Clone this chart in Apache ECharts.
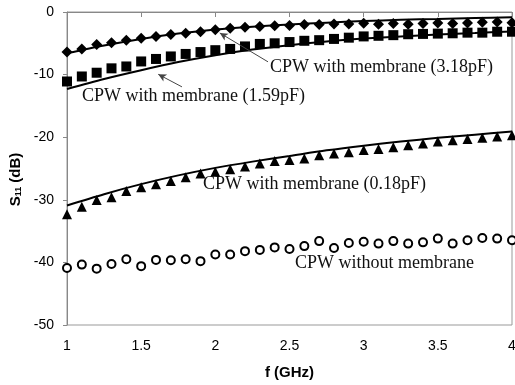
<!DOCTYPE html>
<html lang="en">
<head>
    <meta charset="UTF-8">
    <title>S11 vs frequency</title>
    <script src="https://cdn.jsdelivr.net/npm/echarts@6/dist/echarts.min.js"></script>
</head>
<body style="margin: 0">
<div id="chart" style="width: 515px;height: 385px"></div>
<script>
    // frequency points of the measured data (GHz)
    let freq = [1, 1.1, 1.2, 1.3, 1.4, 1.5, 1.6, 1.7, 1.8, 1.9, 2, 2.1, 2.2, 2.3, 2.4, 2.5,
        2.6, 2.7, 2.8, 2.9, 3, 3.1, 3.2, 3.3, 3.4, 3.5, 3.6, 3.7, 3.8, 3.9, 4];

    // measured S11 (dB)
    let meas318 = [-6.4, -5.9, -5.2, -4.9, -4.5, -4.2, -3.9, -3.6, -3.4, -3.15, -2.85, -2.6, -2.45, -2.3, -2.2, -2.15,
        -2.0, -2.0, -1.9, -1.9, -1.8, -1.95, -1.85, -1.95, -1.85, -1.75, -1.85, -1.75, -1.65, -1.6, -1.7];
    let meas159 = [-11.1, -10.3, -9.7, -9.0, -8.7, -7.9, -7.5, -7.1, -6.7, -6.4, -6.1, -5.9, -5.5, -5.1, -5.0, -4.8,
        -4.6, -4.5, -4.3, -4.1, -3.9, -3.8, -3.7, -3.55, -3.5, -3.45, -3.4, -3.3, -3.3, -3.15, -3.15];
    let meas018 = [-32.3, -31.1, -30.05, -29.6, -28.6, -28.0, -27.5, -27.0, -26.4, -25.8, -25.5, -25.1, -24.7, -24.2, -23.8, -23.65,
        -23.4, -22.9, -22.6, -22.4, -22.05, -21.9, -21.6, -21.3, -21.0, -20.7, -20.5, -20.3, -20.1, -19.9, -19.7];
    let measNone = [-40.9, -40.35, -41.0, -40.25, -39.5, -40.6, -39.6, -39.65, -39.5, -39.8, -38.75, -38.75, -38.2, -38.0, -37.6, -37.85,
        -37.4, -36.6, -37.7, -36.9, -36.7, -37.0, -36.6, -37.0, -36.8, -36.2, -37.0, -36.45, -36.1, -36.2, -36.45];

    // simulated curves
    let simFreq = [1, 1.25, 1.5, 1.75, 2, 2.25, 2.5, 2.75, 3, 3.25, 3.5, 3.75, 4];
    let sim318 = [-6.6, -5.35, -4.3, -3.45, -2.8, -2.35, -2.0, -1.7, -1.45, -1.25, -1.1, -0.95, -0.85];
    let sim159 = [-12.3, -10.7, -9.3, -8.0, -6.9, -6.0, -5.3, -4.7, -4.25, -3.9, -3.6, -3.35, -3.1];
    let sim018 = [-30.9, -29.1, -27.5, -26.1, -24.9, -23.9, -23.0, -22.1, -21.35, -20.7, -20.1, -19.6, -19.1];

    function pairs(xs, ys) {
        return xs.map((x, i) => [x, ys[i]]);
    }

    let serif = '"Liberation Serif", "Times New Roman", serif';
    let sans = '"Liberation Sans", Arial, sans-serif';

    let chart = echarts.init(document.getElementById('chart'));

    function simLine(name, ys, extra) {
        let s = {
            name: name,
            type: 'line',
            data: pairs(simFreq, ys),
            smooth: 0.3,
            showSymbol: false,
            symbol: 'none',
            lineStyle: {color: '#000', width: 2},
            z: 3
        };
        return Object.assign(s, extra || {});
    }

    function measScatter(name, ys, symbol, size, fill) {
        return {
            name: name,
            type: 'scatter',
            data: pairs(freq, ys),
            symbol: symbol,
            symbolSize: size,
            itemStyle: {color: fill, opacity: 1, borderColor: '#000', borderWidth: fill === '#fff' ? 2 : 0},
            z: 4
        };
    }

    let arrowStyle = {color: '#444', width: 1, type: 'solid'};

    let option = {
        animation: false,
        grid: {
            left: 67,
            right: 3,
            top: 12,
            bottom: 60,
            outerBoundsMode: 'none',
            show: true,
            borderColor: '#999',
            borderWidth: 1
        },
        xAxis: {
            type: 'value',
            min: 1,
            max: 4,
            interval: 0.5,
            name: 'f (GHz)',
            nameLocation: 'middle',
            nameGap: 40,
            nameTextStyle: {fontFamily: sans, fontWeight: 'bold', fontSize: 15, color: '#000'},
            axisLine: {show: true, lineStyle: {color: '#888'}},
            axisTick: {show: true, inside: false, length: 5, lineStyle: {color: '#888'}},
            axisLabel: {fontFamily: sans, fontSize: 14, color: '#000', margin: 14},
            splitLine: {show: false}
        },
        yAxis: {
            type: 'value',
            min: -50,
            max: 0,
            interval: 10,
            name: '{b|S}{s|11}{b| (dB)}',
            nameLocation: 'middle',
            nameGap: 40,
            nameRotate: 90,
            nameTextStyle: {
                padding: [0, 22, 0, 0],
                rich: {
                    b: {fontFamily: sans, fontWeight: 'bold', fontSize: 15, color: '#000'},
                    s: {fontFamily: sans, fontWeight: 'bold', fontSize: 9, color: '#000', verticalAlign: 'bottom', padding: [6, 0, 0, 0]}
                }
            },
            axisLine: {show: true, lineStyle: {color: '#888'}},
            axisTick: {show: true, inside: false, length: 4, lineStyle: {color: '#888'}},
            axisLabel: {fontFamily: sans, fontSize: 14, color: '#000', margin: 13},
            splitLine: {show: false}
        },
        series: [
            simLine('sim 3.18pF', sim318, {
                markLine: {
                    silent: true,
                    symbol: ['none', 'arrow'],
                    symbolSize: [6, 8],
                    label: {show: false},
                    lineStyle: arrowStyle,
                    data: [[{coord: [2.355, -7.96]}, {coord: [2.03, -3.35]}],
                        [{coord: [1.775, -11.96]}, {coord: [1.615, -9.95]}]]
                }
            }),
            simLine('sim 1.59pF', sim159),
            simLine('sim 0.18pF', sim018),
            measScatter('3.18pF', meas318, 'diamond', 11, '#000'),
            measScatter('1.59pF', meas159, 'rect', 10, '#000'),
            measScatter('0.18pF', meas018, 'triangle', 10, '#000'),
            measScatter('none', measNone, 'circle', 8, '#fff')
        ],
        graphic: [
            {type: 'text', left: 270, top: 58, style: {text: 'CPW with membrane (3.18pF)', font: '18px ' + serif, fill: '#111'}},
            {type: 'text', left: 82, top: 87, style: {text: 'CPW with membrane (1.59pF)', font: '18px ' + serif, fill: '#111'}},
            {type: 'text', left: 203, top: 175, style: {text: 'CPW with membrane (0.18pF)', font: '18px ' + serif, fill: '#111'}},
            {type: 'text', left: 295, top: 254, style: {text: 'CPW without membrane', font: '18px ' + serif, fill: '#111'}}
        ]
    };
    chart.setOption(option);
</script>
</body>
</html>
